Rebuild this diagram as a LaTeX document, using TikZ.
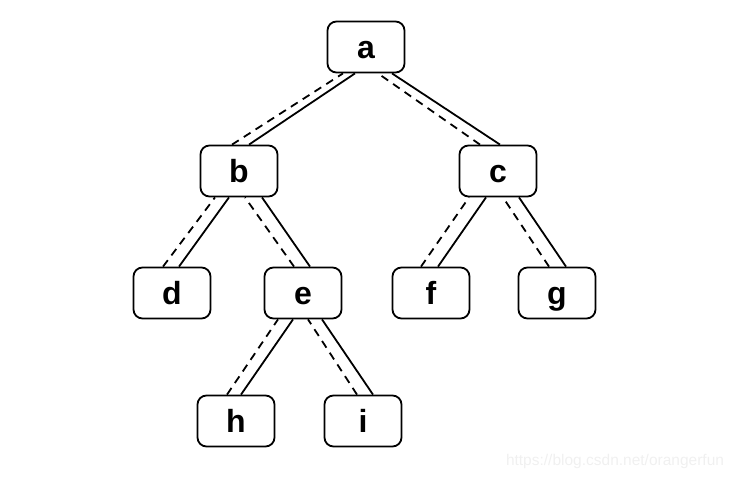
\documentclass[tikz,border=0pt]{standalone}
\usepackage{fontspec}
\setmainfont{Liberation Sans}
\begin{document}
\begin{tikzpicture}[x=1pt, y=-1pt,
		vertex/.style = {draw, line width=1.8pt, rounded corners=9pt, minimum width=77pt, minimum height=51pt, inner sep=0pt, text height=22pt, text depth=0pt, font=\fontsize{32}{32}\selectfont\bfseries},
		edge/.style = {line width=1.8pt},
		walk/.style = {line width=1.8pt, dash pattern=on 8pt off 6pt}]
			\useasboundingbox (0,0) rectangle (734,479);
			\node[vertex] (a) at (366,47) {a};
			
			\node[vertex] (b) at (239,171) {b};
			\node[vertex] (c) at (498,171) {c};
			
			\node[vertex] (d) at (172,293) {d};
			\node[vertex] (e) at (303,293) {e};
			\node[vertex] (f) at (431,293) {f};
			\node[vertex] (g) at (557,293) {g};
			
			\node[vertex] (h) at (236,421) {h};
			\node[vertex] (i) at (363,421) {i};
			
			\draw[edge] ([xshift=-11pt]a.south) -- ([xshift=10pt]b.north);
			\draw[edge] ([xshift=26pt]a.south) -- ([xshift=2pt]c.north);
			\draw[edge] ([xshift=-10pt]b.south) -- ([xshift=7pt]d.north);
			\draw[edge] ([xshift=23pt]b.south) -- ([xshift=7pt]e.north);
			\draw[edge] ([xshift=-12pt]c.south) -- ([xshift=7pt]f.north);
			\draw[edge] ([xshift=21pt]c.south) -- ([xshift=9pt]g.north);
			\draw[edge] ([xshift=-10pt]e.south) -- ([xshift=5pt]h.north);
			\draw[edge] ([xshift=19pt]e.south) -- ([xshift=10pt]i.north);
			
			\draw[walk] ([xshift=-7pt]b.north) -- ([xshift=-23pt]a.south);
			\draw[walk] ([xshift=-18pt]c.north) -- ([xshift=12pt]a.south);
			\draw[walk] ([xshift=-9pt]d.north) -- ([xshift=-24pt]b.south);
			\draw[walk] ([xshift=-9pt]e.north) -- ([xshift=6pt]b.south);
			\draw[walk] ([xshift=-10pt]f.north) -- ([xshift=-29pt]c.south);
			\draw[walk] ([xshift=-8pt]g.north) -- ([xshift=5pt]c.south);
			\draw[walk] ([xshift=-9pt]h.north) -- ([xshift=-25pt]e.south);
			\draw[walk] ([xshift=-6pt]i.north) -- ([xshift=5pt]e.south);
			
			\node[text=gray!12, font=\fontsize{15.5}{15.5}\selectfont] (mark) at (615,461) {https://blog.csdn.net/orangerfun};
		\end{tikzpicture}
\end{document}
